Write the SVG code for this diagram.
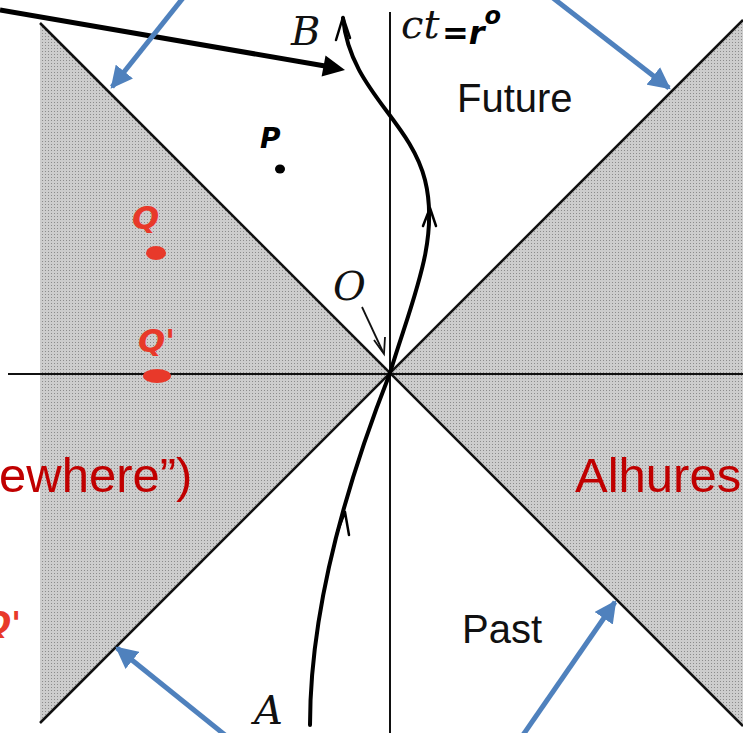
<svg xmlns="http://www.w3.org/2000/svg" width="743" height="733" viewBox="0 0 743 733">
<style>
.cone{stroke:#111;stroke-width:2.5;fill:none}
.axis{stroke:#111;stroke-width:2;fill:none}
.wl{stroke:#000;stroke-width:4;fill:none;stroke-linecap:round}
.chev{stroke:#000;stroke-width:2.5;fill:none;stroke-linecap:round;stroke-linejoin:round}
.blue{stroke:#4f81bd;stroke-width:5;fill:none}
.lab{font-family:"DejaVu Serif","Liberation Serif",serif;font-style:italic;font-size:40px;fill:#111}
.sans{font-family:"Liberation Sans",Arial,sans-serif;font-size:40px;fill:#111}
.red{font-family:"Liberation Sans",Arial,sans-serif;font-size:49px;fill:#c00000}
.hand{font-family:"DejaVu Sans",sans-serif;font-weight:bold;font-style:italic}
</style>
<defs>
<pattern id="dots" width="3" height="3" patternUnits="userSpaceOnUse">
<rect width="3" height="3" fill="#cdcdcd"/>
<rect width="1" height="1" fill="#8c8c8c"/>
</pattern>
<marker id="bh" viewBox="0 0 10 10" refX="9" refY="5" markerWidth="4.4" markerHeight="4.4" orient="auto" markerUnits="strokeWidth">
<path d="M0,0 L10,5 L0,10 z" fill="#4f81bd"/>
</marker>
</defs>
<rect width="743" height="733" fill="#fff"/>
<g id="shade-left">
<polygon points="40,23 390,373 40,723" fill="url(#dots)"/>
</g>
<g id="shade-right">
<polygon points="743,20 390,373 743,726" fill="url(#dots)"/>
</g>
<g id="cone">
<line class="cone" x1="40" y1="23" x2="743" y2="726"/>
<line class="cone" x1="40" y1="723" x2="743" y2="20"/>
</g>
<g id="axes">
<line class="axis" x1="8" y1="374" x2="743" y2="374"/>
<line class="axis" x1="390" y1="12" x2="390" y2="733"/>
</g>
<g id="worldline">
<path class="wl" d="M310,725 C310,620 340,500 390,373 C412,300 440,240 425,180 C410,120 350,90 343,18"/>
<path class="chev" d="M336,40 L343,17 L350,38"/>
<path class="chev" d="M423,226 L430,208 L436,226"/>
<path class="chev" d="M337,533 L345,512 L349,535"/>
</g>
<g id="connectors">
<line x1="0" y1="10" x2="325" y2="66" stroke="#000" stroke-width="5"/>
<polygon points="345,70 321.6,76.5 325.5,55.5" fill="#000"/>
<line x1="362" y1="307" x2="383" y2="352" stroke="#111" stroke-width="1.8"/>
<path d="M374,340 L384,354 L385,337" stroke="#111" stroke-width="1.8" fill="none"/>
<line class="blue" x1="183" y1="-2" x2="112" y2="87" marker-end="url(#bh)"/>
<line class="blue" x1="553" y1="-2" x2="669" y2="88" marker-end="url(#bh)"/>
<line class="blue" x1="225" y1="735" x2="117" y2="648" marker-end="url(#bh)"/>
<line class="blue" x1="523" y1="735" x2="615" y2="602" marker-end="url(#bh)"/>
</g>
<g id="labels">
<text class="lab" x="291" y="45">B</text>
<text class="lab" x="401" y="38">ct</text>
<text class="hand" x="442" y="44" font-size="32" fill="#000">=r<tspan font-size="24" dy="-20">o</tspan></text>
<text class="sans" x="457" y="112">Future</text>
<text class="sans" x="462" y="643">Past</text>
<text class="lab" x="333" y="300">O</text>
<text class="lab" x="254" y="724">A</text>
<text class="red" x="-1" y="492">ewhere”)</text>
<text class="red" x="575" y="492">Alhures</text>
</g>
<g id="handwriting">
<text class="hand" x="260" y="148" font-size="28" fill="#000">P</text>
<ellipse cx="280" cy="169" rx="5" ry="4.5" fill="#000"/>
<text class="hand" x="132" y="229" font-size="32" fill="#e8392a">Q</text>
<ellipse cx="156" cy="253" rx="10" ry="7" fill="#e8392a"/>
<text class="hand" x="138" y="352" font-size="32" fill="#e8392a">Q'</text>
<ellipse cx="157" cy="376" rx="14" ry="7" fill="#e8392a"/>
<text class="hand" x="-16" y="634" font-size="32" fill="#e8392a">Q'</text>
</g>
</svg>
